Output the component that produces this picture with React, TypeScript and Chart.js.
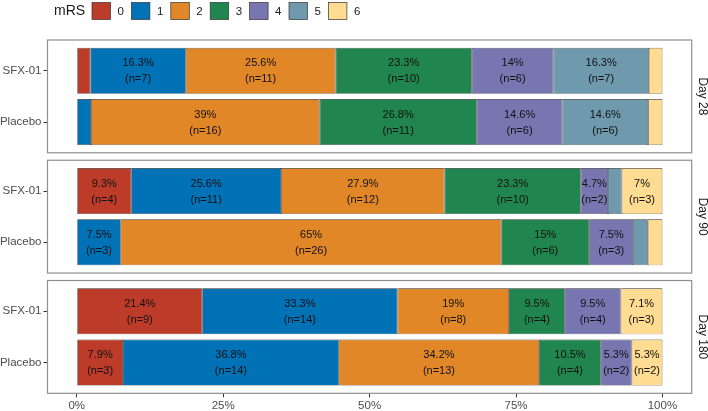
import { useEffect, useRef } from "react";
import { Chart, registerables } from "chart.js";
import type { ChartConfiguration, Plugin } from "chart.js";

Chart.register(...registerables);

const FONT = "'Liberation Sans', Arial, Helvetica, sans-serif";

const days = ["Day 28", "Day 90", "Day 180"];
const groups = ["SFX-01", "Placebo"];
const mrsScores = ["0", "1", "2", "3", "4", "5", "6"];
const mrsColors = ["#BC3C29", "#0072B5", "#E18727", "#20854E", "#7876B1", "#6F99AD", "#FFDC91"];

// patients per mRS score (0..6), one row per day
const sfxCounts = [
   [1, 7, 11, 10, 6, 7, 1],
   [4, 11, 12, 10, 2, 1, 3],
   [9, 14, 8, 4, 4, 0, 3],
];
const placeboCounts = [
   [0, 1, 16, 11, 6, 6, 1],
   [0, 3, 26, 6, 3, 1, 1],
   [3, 14, 13, 4, 2, 0, 2],
];

const xTicks = [0, 25, 50, 75, 100];

// facet layout in y units (1 unit = one bar slot, 0.6 expansion like ggplot)
const PANEL_SPAN = 2.2;
const PANEL_GAP = 0.146;
const Y_MAX = days.length * PANEL_SPAN + (days.length - 1) * PANEL_GAP;
const SHOW_LABEL_MIN = 4;

interface Row {
   day: number;
   group: number;
   pos: number;
   counts: number[];
   total: number;
}

const rows: Row[] = days.flatMap((_, d) =>
   [sfxCounts[d], placeboCounts[d]].map((counts, g) => ({
      day: d,
      group: g,
      pos: d * (PANEL_SPAN + PANEL_GAP) + 0.6 + g,
      counts,
      total: counts.reduce((a, b) => a + b, 0),
   }))
);

const pct = (r: Row, i: number) => (100 * r.counts[i]) / r.total;
const fmtPct = (v: number) => `${Number(v.toFixed(1))}%`;

const facetPlugin: Plugin<"bar"> = {
   id: "facets",
   afterDatasetsDraw(chart) {
      const { ctx, chartArea } = chart;
      const y = chart.scales.y;
      ctx.save();
      days.forEach((day, d) => {
         const start = d * (PANEL_SPAN + PANEL_GAP);
         const top = y.getPixelForValue(start);
         const bottom = y.getPixelForValue(start + PANEL_SPAN);
         ctx.strokeStyle = "#8f8f8f";
         ctx.lineWidth = 1.2;
         ctx.strokeRect(chartArea.left, top, chartArea.right - chartArea.left, bottom - top);

         ctx.save();
         ctx.translate(chartArea.right + 10.5, (top + bottom) / 2);
         ctx.rotate(Math.PI / 2);
         ctx.fillStyle = "#1a1a1a";
         ctx.font = `12px ${FONT}`;
         ctx.textAlign = "center";
         ctx.textBaseline = "middle";
         ctx.fillText(day, 0, 0);
         ctx.restore();
      });
      ctx.restore();
   },
};

const barLabelPlugin: Plugin<"bar"> = {
   id: "barLabels",
   afterDatasetsDraw(chart) {
      const { ctx } = chart;
      ctx.save();
      ctx.font = `11px ${FONT}`;
      ctx.fillStyle = "#111111";
      ctx.textAlign = "center";
      ctx.textBaseline = "middle";
      chart.data.datasets.forEach((_, i) => {
         const meta = chart.getDatasetMeta(i);
         meta.data.forEach((el, j) => {
            const r = rows[j];
            const v = pct(r, i);
            if (!r.counts[i] || v < SHOW_LABEL_MIN) return;
            const { x, y } = el.getCenterPoint();
            ctx.fillText(fmtPct(v), x, y - 7.5);
            ctx.fillText(`(n=${r.counts[i]})`, x, y + 8.5);
         });
      });
      ctx.restore();
   },
};

const legendPlugin: Plugin<"bar"> = {
   id: "mrsLegend",
   afterDraw(chart) {
      const { ctx } = chart;
      ctx.save();
      ctx.textAlign = "left";
      ctx.textBaseline = "middle";
      ctx.fillStyle = "#1a1a1a";
      ctx.font = `14px ${FONT}`;
      ctx.fillText("mRS", 54, 11);
      ctx.font = `11.5px ${FONT}`;
      chart.data.datasets.forEach((ds, i) => {
         const bx = 92 + i * 39.4;
         ctx.fillStyle = ds.backgroundColor as string;
         ctx.fillRect(bx, 2.5, 18.5, 17);
         ctx.strokeStyle = "#333333";
         ctx.lineWidth = 0.7;
         ctx.strokeRect(bx, 2.5, 18.5, 17);
         ctx.fillStyle = "#1a1a1a";
         ctx.fillText(ds.label ?? "", bx + 25.5, 11.5);
      });
      ctx.restore();
   },
};

const groupAt = (value: number) => {
   const r = rows.find((row) => Math.abs(row.pos - value) < 1e-6);
   return r ? groups[r.group] : "";
};

const MrsChart = () => {
   const canvasRef = useRef<HTMLCanvasElement>(null);

   useEffect(() => {
      if (!canvasRef.current) return;
      const tickGrid = {
         offset: false,
         drawOnChartArea: false,
         drawTicks: true,
         tickLength: 4,
         color: "#333333",
         lineWidth: 1,
      };
      const config: ChartConfiguration<"bar", any, any> = {
         type: "bar",
         data: {
            datasets: mrsScores.map((s, i) => ({
               label: s,
               data: rows.map((r) => ({ x: r.counts[i] ? pct(r, i) : null, y: r.pos })),
               backgroundColor: mrsColors[i],
               borderColor: "#2b2b2b",
               borderWidth: 0.7,
               borderSkipped: false,
               categoryPercentage: 1,
               barPercentage: 0.9,
            })),
         },
         options: {
            indexAxis: "y",
            responsive: true,
            maintainAspectRatio: false,
            animation: false,
            events: [],
            layout: { padding: { top: 40, right: 16.3, left: 0, bottom: 0 } },
            plugins: {
               legend: { display: false },
               tooltip: { enabled: false },
            },
            scales: {
               x: {
                  type: "linear",
                  stacked: true,
                  offset: false,
                  min: -5,
                  max: 105,
                  afterBuildTicks: (scale) => {
                     scale.ticks = xTicks.map((value) => ({ value }));
                  },
                  afterFit: (scale) => {
                     scale.height = 17.7;
                  },
                  ticks: {
                     callback: (v) => `${v}%`,
                     color: "#4d4d4d",
                     font: { family: FONT, size: 11.5 },
                     padding: 1.5,
                     autoSkip: false,
                     maxRotation: 0,
                  },
                  grid: tickGrid,
                  border: { display: false },
               },
               y: {
                  type: "linear",
                  stacked: true,
                  offset: false,
                  reverse: true,
                  min: 0,
                  max: Y_MAX,
                  afterBuildTicks: (scale) => {
                     scale.ticks = rows.map((r) => ({ value: r.pos }));
                  },
                  afterFit: (scale) => {
                     scale.width = 47.5;
                  },
                  ticks: {
                     callback: (v) => groupAt(Number(v)),
                     color: "#4d4d4d",
                     font: { family: FONT, size: 11.5 },
                     padding: 2,
                     autoSkip: false,
                  },
                  grid: tickGrid,
                  border: { display: false },
               },
            },
         },
         plugins: [facetPlugin, barLabelPlugin, legendPlugin],
      };

      const chart = new Chart(canvasRef.current, config);
      return () => {
         chart.destroy();
      };
   }, []);

   return (
      <div style={{ position: "absolute", left: 0, top: 0, width: 708, height: 411, background: "#fff" }}>
         <canvas ref={canvasRef} />
      </div>
   );
};

export default function App() {
   return <MrsChart />;
}
